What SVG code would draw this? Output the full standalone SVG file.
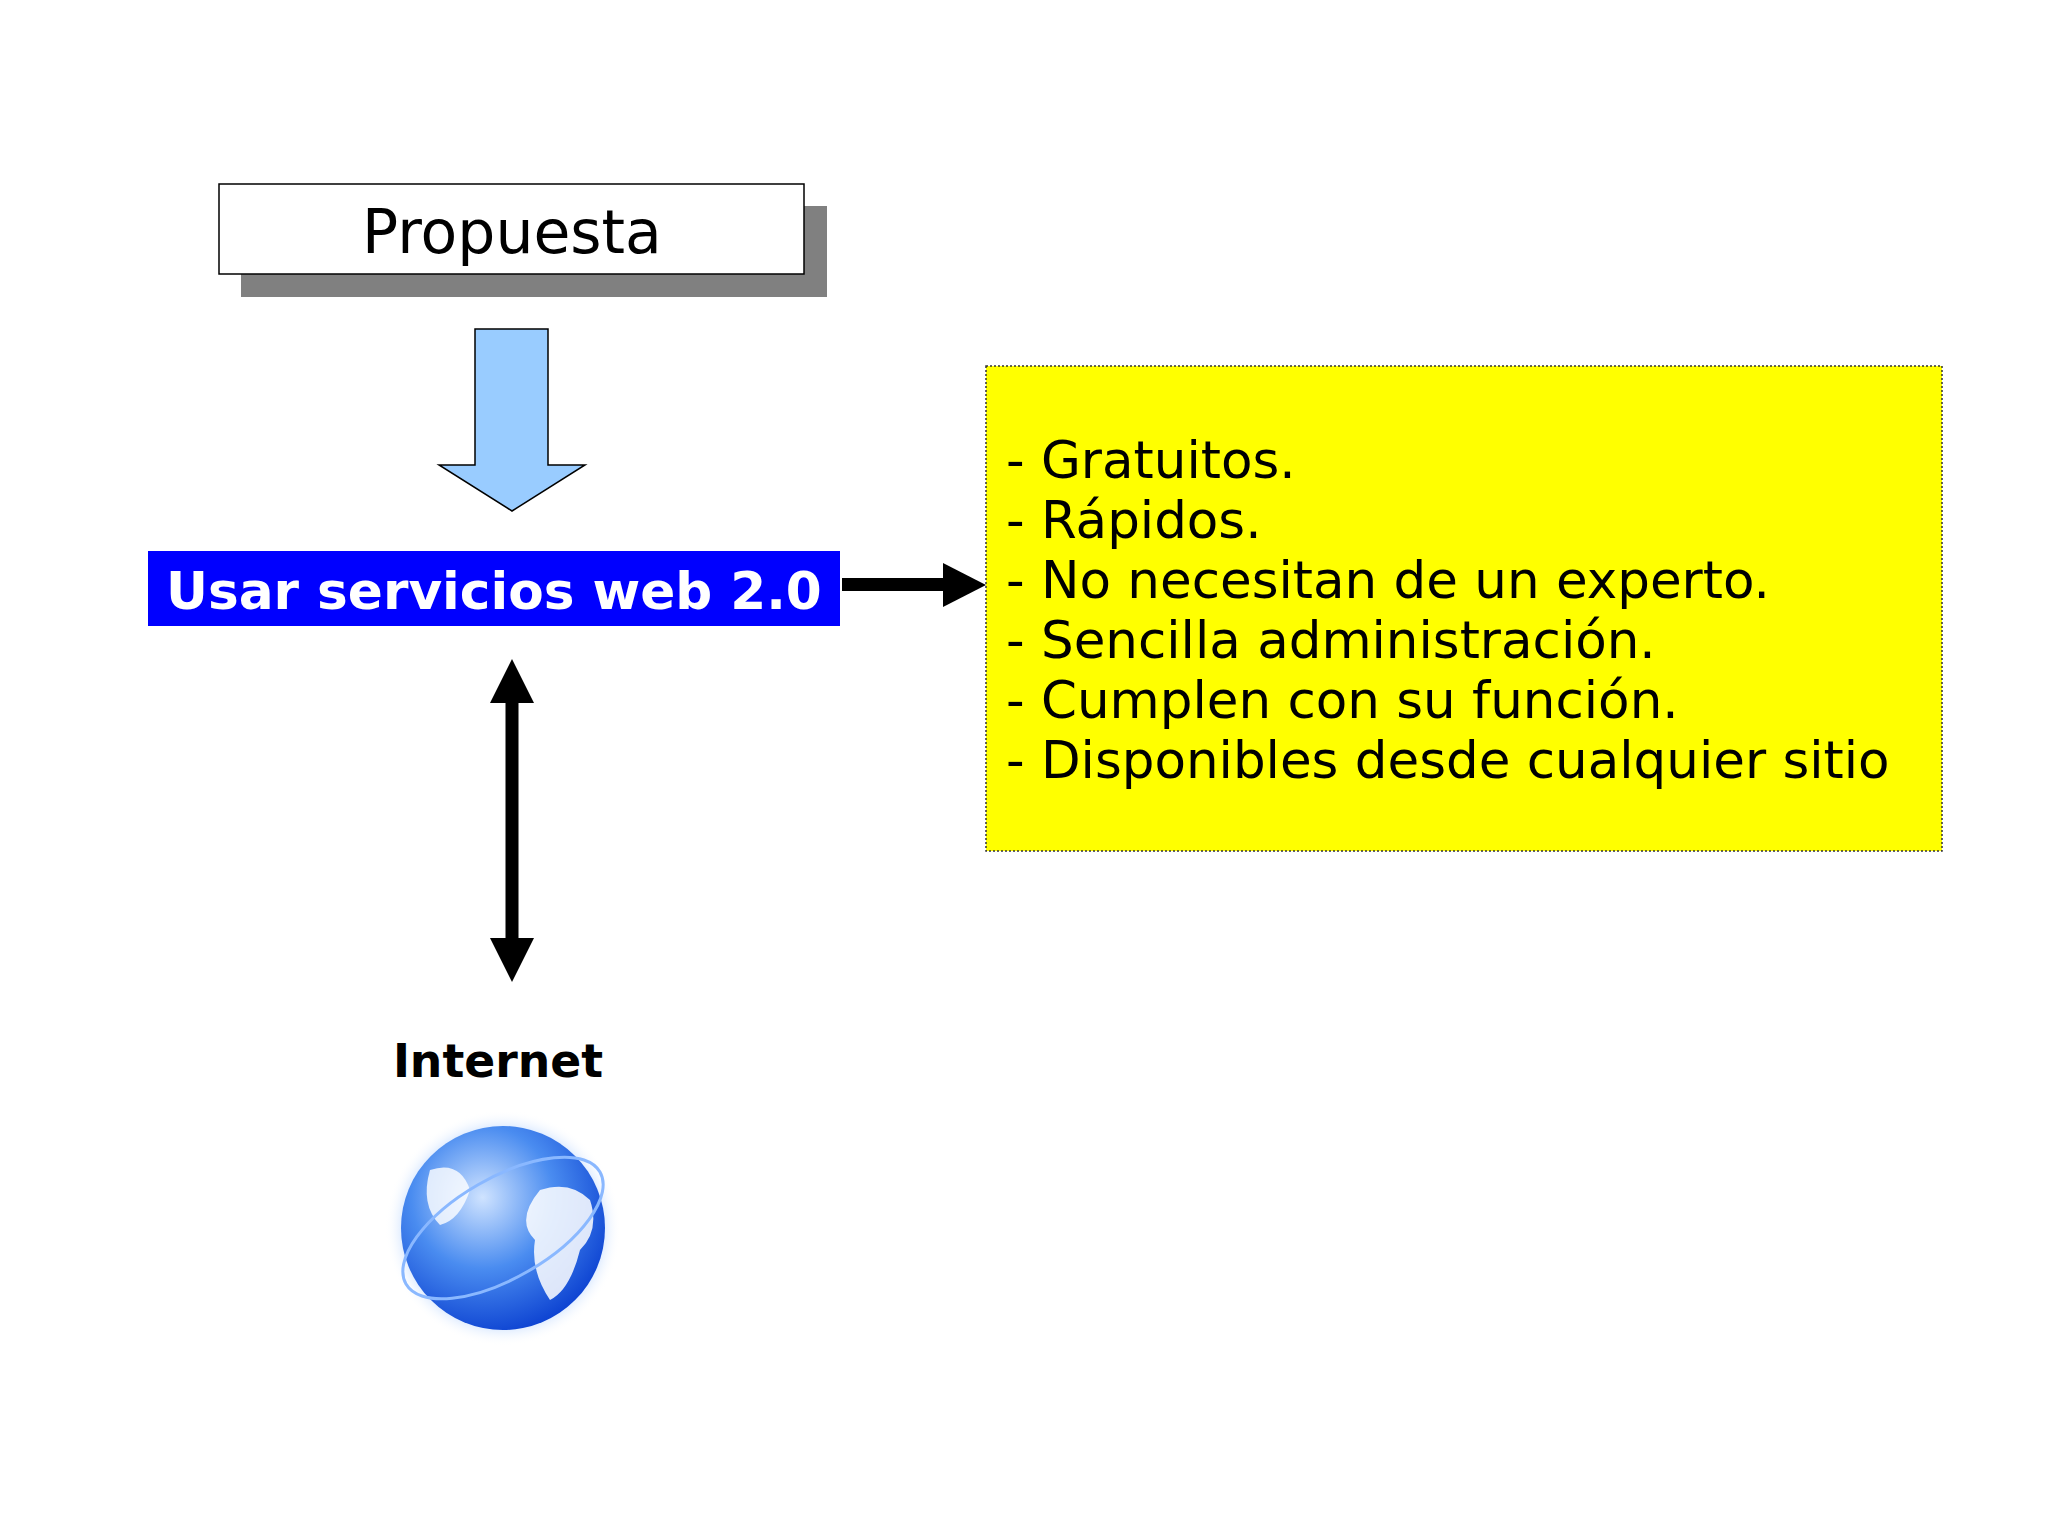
<svg xmlns="http://www.w3.org/2000/svg" width="2048" height="1535" viewBox="0 0 2048 1535">
<defs>
<style>
text{font-family:"DejaVu Sans","Liberation Sans",sans-serif}
.li{font-size:51.5px;fill:#000}
</style>
<radialGradient id="g" cx="0.4" cy="0.35" r="0.7">
<stop offset="0" stop-color="#cfe3ff"/><stop offset="0.5" stop-color="#4a8cf0"/><stop offset="1" stop-color="#0a3fd0"/>
</radialGradient>
<radialGradient id="glow" cx="0.5" cy="0.5" r="0.5">
<stop offset="0.8" stop-color="#9cc4ff" stop-opacity="0.6"/><stop offset="1" stop-color="#fff" stop-opacity="0"/>
</radialGradient>
</defs>
<rect width="2048" height="1535" fill="#fff"/>
<g id="propuesta">
<rect x="241" y="206" width="586" height="91" fill="#808080"/>
<rect x="219" y="184" width="585" height="90" fill="#fff" stroke="#000" stroke-width="1.5"/>
<text x="512" y="253" font-size="60" text-anchor="middle">Propuesta</text>
</g>
<g id="usar">
<rect x="148" y="551" width="692" height="75" fill="#0000ff"/>
<text x="166" y="609" font-size="51.7" font-weight="bold" fill="#fff">Usar servicios web 2.0</text>
</g>
<g id="lista">
<rect x="986" y="366" width="956" height="485" fill="#ffff00" stroke="#333" stroke-width="1.5" stroke-dasharray="2,2"/>
<text class="li" x="1006" y="478">- Gratuitos.</text>
<text class="li" x="1006" y="538">- Rápidos.</text>
<text class="li" x="1006" y="598">- No necesitan de un experto.</text>
<text class="li" x="1006" y="658">- Sencilla administración.</text>
<text class="li" x="1006" y="718">- Cumplen con su función.</text>
<text class="li" x="1006" y="778">- Disponibles desde cualquier sitio</text>
</g>
<g id="internet">
<text x="498" y="1077" font-size="45.7" font-weight="bold" text-anchor="middle">Internet</text>
<circle cx="503" cy="1228" r="118" fill="url(#glow)"/>
<circle cx="503" cy="1228" r="102" fill="url(#g)"/>
<path d="M540 1190 q30 -10 50 10 q10 30 -10 50 q-10 40 -30 50 q-20 -30 -15 -60 q-20 -20 5 -50z" fill="#fff" opacity="0.85"/>
<path d="M430 1170 q30 -10 40 20 q-10 30 -30 35 q-20 -20 -10 -55z" fill="#fff" opacity="0.8"/>
<ellipse cx="503" cy="1228" rx="112" ry="50" fill="none" stroke="#8ab8ff" stroke-width="3" transform="rotate(-30 503 1228)"/>
</g>
<g id="connectors">
<polygon points="475,329 548,329 548,465 585,465 512,511 439,465 475,465" fill="#99ccff" stroke="#000" stroke-width="1.5"/>
<rect x="842" y="578" width="105" height="13" fill="#000"/>
<polygon points="943,563 986,585 943,607" fill="#000"/>
<rect x="505.5" y="700" width="13" height="240" fill="#000"/>
<polygon points="512,659 534,703 490,703" fill="#000"/>
<polygon points="512,982 534,938 490,938" fill="#000"/>
</g>
</svg>
